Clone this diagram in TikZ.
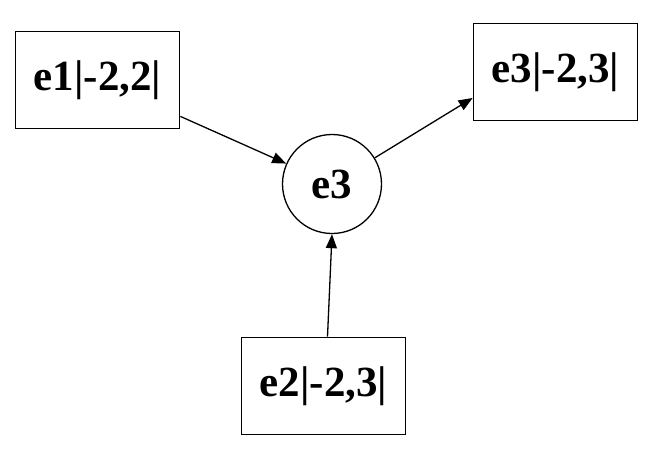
\documentclass[tikz,border=0pt]{standalone}
\usepackage{fontspec}
\setmainfont{Liberation Serif}
\usepackage{tikz}
\usetikzlibrary{shapes.geometric, arrows.meta, positioning}

\begin{document}
\begin{tikzpicture}[
    x=1pt, y=1pt,
    box/.style={rectangle, draw, line width=1.8pt, minimum width=164pt, minimum height=97pt,
                align=center, font=\fontsize{43}{48}\selectfont\bfseries, inner sep=0pt},
    event/.style={circle, draw, line width=1.3pt, minimum size=99pt,
                  align=center, font=\fontsize{43}{48}\selectfont\bfseries, inner sep=0pt},
    arrow/.style={-{Triangle[length=14pt, width=11pt]}, line width=1.3pt}
]
    \useasboundingbox (0,0) rectangle (663,-458);

    % input events
    \node[box] (in1)   at (97.5,-80)  {e1|-2,2|};
    \node[box] (in2)   at (323.5,-386) {e2|-2,3|};

    % combined event
    \node[event] (ev)  at (332,-184)  {e3};

    % output
    \node[box] (out)   at (555.5,-72)  {e3|-2,3|};

    % arrow ends on the box sides
    \coordinate (a1) at ([yshift=13pt]in1.south east);
    \coordinate (a2) at ([xshift=4pt]in2.north);
    \coordinate (b1) at ([yshift=-26pt]out.west);

    \draw[arrow] (a1) -- (ev);
    \draw[arrow] (a2) -- (ev.south);
    \draw[arrow] (ev) -- (b1);

\end{tikzpicture}
\end{document}
